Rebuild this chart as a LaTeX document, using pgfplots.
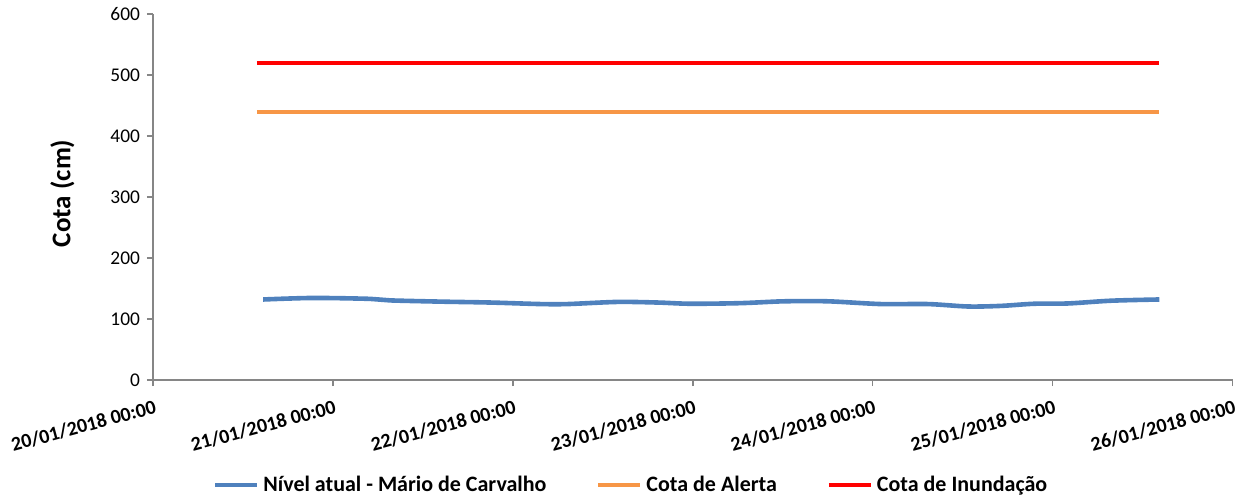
\documentclass[border=0pt]{standalone}
\usepackage{pgfplots}
\pgfplotsset{compat=1.18}
\usepackage{fontspec}
\setmainfont{Carlito}

\definecolor{nivel}{HTML}{4F81BD}
\definecolor{alerta}{HTML}{F79646}
\definecolor{inund}{HTML}{FF0000}
\definecolor{eixo}{HTML}{868686}

\begin{document}
\begin{tikzpicture}
\path[use as bounding box] (-76.5pt,-61.5pt) rectangle (546pt,190pt);
\begin{axis}[
    scale only axis,
    width=539.75pt,
    height=183pt,
    xmin=0, xmax=6,
    ymin=0, ymax=600,
    ytick={0,100,...,600},
    xtick={0,1,...,6},
    xticklabels={20/01/2018 00:00,21/01/2018 00:00,22/01/2018 00:00,23/01/2018 00:00,24/01/2018 00:00,25/01/2018 00:00,26/01/2018 00:00},
    axis lines=left,
    axis line style={eixo, line width=1pt, -},
    tick style={eixo, line width=0.8pt},
    tick align=outside,
    major tick length=3pt,
    y tick label style={font=\fontsize{9.7}{11}\selectfont, /pgf/number format/assume math mode=true},
    x tick label style={font=\fontsize{10}{12}\selectfont\bfseries, rotate=15, anchor=north east, xshift=2pt, yshift=-3pt},
    ylabel={Cota (cm)},
    every axis y label/.style={at={(axis description cs:-0.084,0.51)}, rotate=90, anchor=center,
        font=\fontsize{13.5}{15}\selectfont\bfseries},
    legend columns=3,
    legend style={draw=none, fill=none, at={(axis description cs:0.444,-0.287)}, anchor=center,
        font=\fontsize{11}{13}\selectfont\bfseries,
        /tikz/every even column/.append style={column sep=23pt}},
    legend image code/.code={\draw[#1, line width=2pt] (0pt,0pt) -- (21pt,0pt);},
    clip=false,
]
% Nivel atual - Mario de Carvalho
\addplot[nivel, line width=2.3pt, smooth, tension=0.5] coordinates {
    (0.612,132) (0.890,134.5) (1.208,133) (1.319,130.5) (1.597,128.5)
    (1.875,127) (2.154,124.5) (2.304,124.5) (2.582,128) (2.805,127)
    (2.988,125) (3.266,126) (3.506,129) (3.751,129) (4.046,124.5)
    (4.307,124.5) (4.530,120.5) (4.713,121.5) (4.897,125) (5.086,125.5)
    (5.326,130) (5.593,132)
};
\addlegendentry{Nível atual - Mário de Carvalho}
% Cota de Alerta
\addplot[alerta, line width=2pt] coordinates {(0.577,440) (5.593,440)};
\addlegendentry{Cota de Alerta}
% Cota de Inundacao
\addplot[inund, line width=2pt] coordinates {(0.577,520) (5.593,520)};
\addlegendentry{Cota de Inundação}
\end{axis}
\end{tikzpicture}
\end{document}
